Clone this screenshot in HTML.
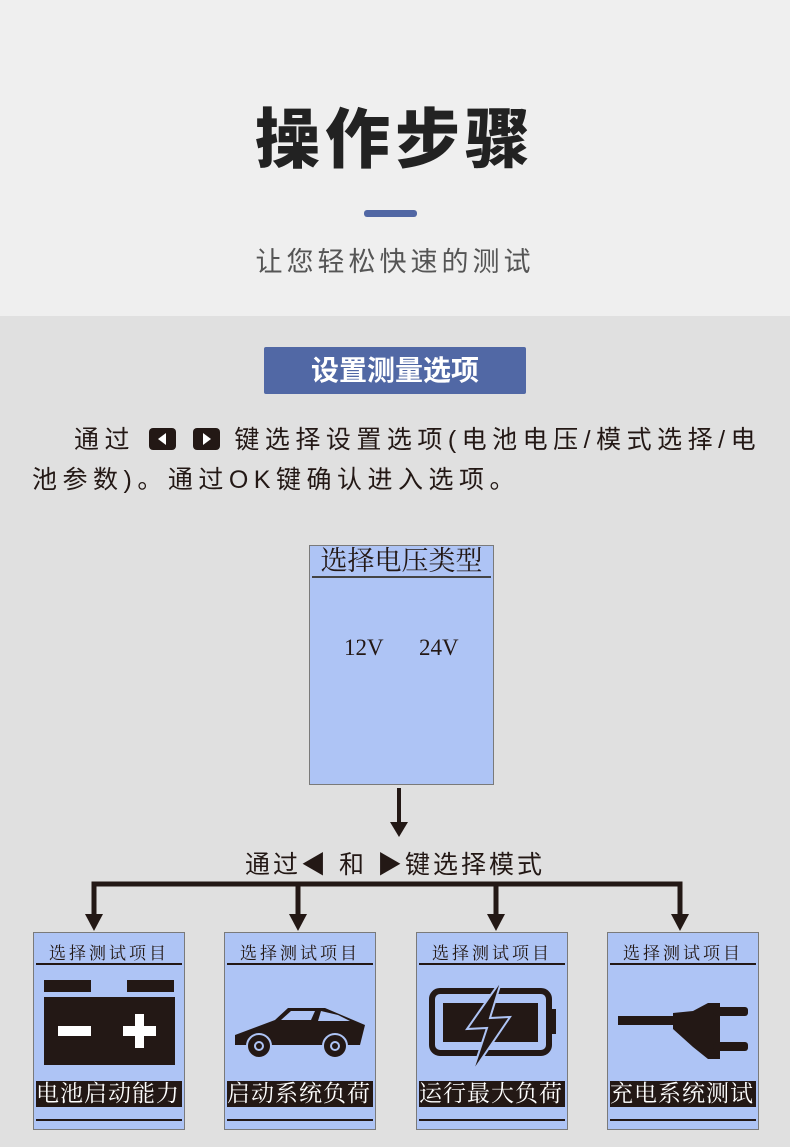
<!DOCTYPE html>
<html><head><meta charset="utf-8"><style>
*{margin:0;padding:0;box-sizing:border-box}
body{width:790px;height:1147px;overflow:hidden;background:#e0e0e0;position:relative;font-family:"Liberation Sans","Noto Sans CJK SC",sans-serif;color:#231815}
.top{position:absolute;left:0;top:0;width:790px;height:316px;background:#efefef}
.abs{position:absolute}
.title{left:0;width:790px;top:100px;text-align:center;font-size:65px;font-weight:900;letter-spacing:5px;color:#222;line-height:80px}
.bar{left:364px;top:210px;width:53px;height:7px;background:#5167a4;border-radius:3px}
.sub{left:0;width:790px;top:240px;text-align:center;font-size:27px;color:#555;letter-spacing:4px}
.btn{left:264px;top:347px;width:262px;height:47px;background:#5168a5;color:#fff;font-size:28px;font-weight:bold;text-align:center;line-height:47px;border-radius:2px}
.para{font-size:25px;color:#231815;letter-spacing:5.5px;line-height:40px;white-space:nowrap}
.key{display:inline-block;width:27px;height:22px;background:#231815;border-radius:4px;vertical-align:-2px;position:relative;margin:0 2px}
.screen{background:#aec4f5;border:1.5px solid #7a7a7a}
.card{position:absolute;top:932px;width:152px;height:198px}
.card .t{position:absolute;top:6px;left:0;width:100%;text-align:center;font-size:17px;letter-spacing:3px;font-family:"Liberation Serif","Noto Serif CJK SC",serif}
.card .l1{position:absolute;left:2px;right:2px;top:30px;height:2px;background:#231815}
.card .lb{position:absolute;left:2px;right:2px;top:148px;height:26px;background:#231815;color:#fff;font-size:23px;line-height:26px;white-space:nowrap;overflow:hidden;letter-spacing:1px;font-family:"Liberation Serif","Noto Serif CJK SC",serif}
.card .l2{position:absolute;left:2px;right:2px;top:186px;height:2px;background:#231815}
</style></head><body>
<div class="top"></div>
<div class="abs title">操作步骤</div>
<div class="abs bar"></div>
<div class="abs sub">让您轻松快速的测试</div>
<div class="abs btn">设置测量选项</div>
<div class="abs para" style="left:74px;top:420px">通过 <span class="key"><svg width="27" height="22" style="position:absolute;left:0;top:0"><polygon points="17,5 17,17 9,11" fill="#fff"/></svg></span> <span class="key"><svg width="27" height="22" style="position:absolute;left:0;top:0"><polygon points="10,5 10,17 18,11" fill="#fff"/></svg></span> 键选择设置选项(电池电压/模式选择/电</div>
<div class="abs para" style="left:32px;top:460px">池参数)。通过OK键确认进入选项。</div>

<div class="abs screen" style="left:309px;top:545px;width:185px;height:240px">
<div class="abs" style="left:0;top:0;width:100%;text-align:center;font-size:27px;line-height:30px;font-family:'Liberation Serif','Noto Serif CJK SC',serif;white-space:nowrap">选择电压类型</div>
<div class="abs" style="left:2px;right:2px;top:30px;height:2px;background:#444"></div>
<div class="abs" style="left:34px;top:89px;font-size:23px;font-family:'Liberation Serif',serif">12V</div>
<div class="abs" style="left:109px;top:89px;font-size:23px;font-family:'Liberation Serif',serif">24V</div>
</div>

<svg class="abs" style="left:0;top:780px" width="790" height="152">
<line x1="399" y1="8" x2="399" y2="44" stroke="#231815" stroke-width="4"/>
<polygon points="390,42 408,42 399,57" fill="#231815"/>
<polyline points="94,140 94,104 680,104 680,140" fill="none" stroke="#231815" stroke-width="5"/>
<line x1="298" y1="104" x2="298" y2="140" stroke="#231815" stroke-width="5"/>
<line x1="496" y1="104" x2="496" y2="140" stroke="#231815" stroke-width="5"/>
<g fill="#231815">
<polygon points="85,134 103,134 94,151"/>
<polygon points="289,134 307,134 298,151"/>
<polygon points="487,134 505,134 496,151"/>
<polygon points="671,134 689,134 680,151"/>
</g>
</svg>
<div class="abs" style="left:0;top:848px;width:790px;text-align:center;font-size:25px;letter-spacing:3px;line-height:34px">通过◀ 和 ▶键选择模式</div>

<div class="card screen" style="left:33px">
<div class="t">选择测试项目</div><div class="l1"></div>
<svg class="abs" style="left:0;top:40px" width="152" height="100">
<rect x="10" y="7" width="47" height="12" fill="#231815"/><rect x="93" y="7" width="47" height="12" fill="#231815"/>
<rect x="10" y="24" width="131" height="68" fill="#231815"/>
<rect x="24" y="53" width="33" height="10" fill="#fff"/>
<rect x="89" y="53" width="33" height="10" fill="#fff"/><rect x="101" y="41" width="9" height="34" fill="#fff"/>
</svg>
<div class="lb">电池启动能力</div><div class="l2"></div>
</div>

<div class="card screen" style="left:224px">
<div class="t">选择测试项目</div><div class="l1"></div>
<svg class="abs" style="left:0;top:40px" width="152" height="100">
<path d="M10,72 L10,62 L50,47 L63,35 L100,35 L140,52 L135,72 Z" fill="#231815"/>
<path d="M56,47 L66,38 L90,38 L86,47 Z" fill="#aec4f5"/><path d="M96,38 L113,42 L125,48 L93,48 Z" fill="#aec4f5"/>
<circle cx="34" cy="73" r="12" fill="#231815" stroke="#aec4f5" stroke-width="2"/><circle cx="34" cy="73" r="5" fill="#aec4f5"/><circle cx="34" cy="73" r="3" fill="#231815"/>
<circle cx="110" cy="73" r="12" fill="#231815" stroke="#aec4f5" stroke-width="2"/><circle cx="110" cy="73" r="5" fill="#aec4f5"/><circle cx="110" cy="73" r="3" fill="#231815"/>
</svg>
<div class="lb">启动系统负荷</div><div class="l2"></div>
</div>

<div class="card screen" style="left:416px">
<div class="t">选择测试项目</div><div class="l1"></div>
<svg class="abs" style="left:0;top:40px" width="152" height="100">
<rect x="15" y="18" width="117" height="62" rx="8" fill="none" stroke="#231815" stroke-width="6"/>
<rect x="26" y="30" width="95" height="39" fill="#231815"/>
<rect x="133" y="36" width="6" height="25" fill="#231815"/>
<path d="M85,6 L50,56 L70,55 L55,100 L93,44 L73,45 Z" fill="#231815" stroke="#aec4f5" stroke-width="2"/>
</svg>
<div class="lb">运行最大负荷</div><div class="l2"></div>
</div>

<div class="card screen" style="left:607px">
<div class="t">选择测试项目</div><div class="l1"></div>
<svg class="abs" style="left:0;top:40px" width="152" height="100">
<rect x="10" y="43" width="65" height="9" fill="#231815"/>
<path d="M65,40 L85,38 L100,30 L112,30 L112,86 L100,86 L85,74 L65,56 Z" fill="#231815"/>
<rect x="105" y="34" width="35" height="9" rx="3" fill="#231815"/>
<rect x="105" y="69" width="35" height="9" rx="3" fill="#231815"/>
</svg>
<div class="lb">充电系统测试</div><div class="l2"></div>
</div>
</body></html>
